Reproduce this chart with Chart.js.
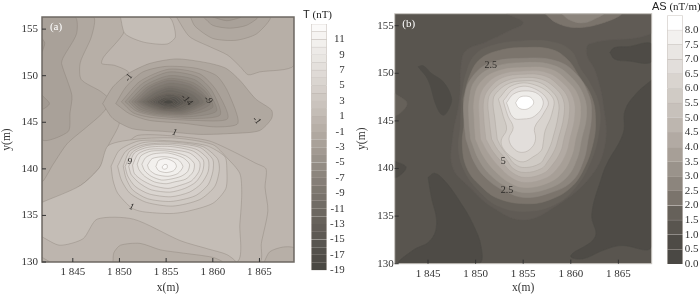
<!DOCTYPE html>
<html>
<head>
<meta charset="utf-8">
<script src="https://cdn.jsdelivr.net/npm/chart.js@4"></script>
<style>
html, body { margin: 0; padding: 0; background: #fff; }
canvas { position: absolute; top: 0; filter: blur(0.3px); }
.bartitle { position: absolute; font: 11px "Liberation Serif", serif; color: #222; white-space: nowrap; }
.bartitle b { font: 11px "Liberation Sans", sans-serif; }
</style>
</head>
<body>
<canvas id="mapT" width="300" height="294" style="left:0"></canvas>
<canvas id="barT" width="55" height="294" style="left:300px"></canvas>
<canvas id="mapAS" width="300" height="294" style="left:355px"></canvas>
<canvas id="barAS" width="45" height="294" style="left:655px"></canvas>
<div class="bartitle" style="left:303px;top:8px"><b>T</b> (nT)</div>
<div class="bartitle" style="left:652px;top:0"><b>AS</b> (nT/m)</div>
<script>
const xTicks = [1845, 1850, 1855, 1860, 1865];
const yTicks = [130, 135, 140, 145, 150, 155];
const tickLabelsT = [-19, -17, -15, -13, -11, -9, -7, -5, -3, -1, 1, 3, 5, 7, 9, 11];
const tickLabelsAS = [0, 0.5, 1, 1.5, 2, 2.5, 3, 3.5, 4, 4.5, 5, 5.5, 6, 6.5, 7, 7.5, 8];

// colour of each 1 nT band, from -19 upward
const bandColoursT = ['#4a4843', '#4f4c47', '#53504b', '#585550', '#5d5953', '#625d57', '#67625b', '#6c6760',
    '#716c65', '#78726b', '#7e7870', '#857e77', '#8c857d', '#938c84', '#9a938b', '#a29a92',
    '#a9a199', '#b0a8a0', '#b7afa7', '#bdb5ae', '#c4bdb6', '#cac3bd', '#cfc9c3', '#d5cfca',
    '#dad5d0', '#dfdad6', '#e4e0dc', '#e9e6e2', '#edeae7', '#f2f0ed', '#f6f4f2', '#fbfaf9'];
// colour of each 0.5 nT/m band, from 0 upward
const bandColoursAS = ['#4a4844', '#4e4b46', '#59554f', '#66615a', '#7b746c', '#8c857d', '#9a938b', '#a79f97',
    '#b2aaa3', '#bdb6af', '#c7c1bb', '#d0cbc5', '#d9d4cf', '#e2dedb', '#e9e6e3', '#f3f1ef', '#ffffff'];

// (a) contour rings, in metres, painted in this order
const levelsTback = [0, -1, -1, -2, -3, -4, -2, -3, -4, -4, 1, 0, 1, 0, -1, -1, -1];
const ringsTback = [
    [[1841.7,130],[1868.7,130],[1868.7,156.3],[1841.7,156.3]],
    [[1841.7,156.3],[1850.1,156.3],[1850.5,154.7],[1848.3,152],[1848.1,151.3],[1849.5,151.1],[1851,150.3],[1849.5,148.5],[1849,146],[1850,145],[1848.8,142.5],[1847.9,140.2],[1845.8,138.2],[1841.7,136.4]],
    [[1856.1,156.3],[1857.5,154.2],[1859.7,153.1],[1861.6,152.2],[1862.9,151],[1863.8,150.1],[1865,150.4],[1868.7,151.1],[1868.7,156.3]],
    [[1857.6,156.3],[1858.1,155.3],[1860,154],[1862.5,153.8],[1864.7,154.5],[1866.1,156.3]],
    [[1859,156.3],[1860,155.4],[1861.8,155.1],[1863.6,155.4],[1864.8,156.3]],
    [[1860,156.3],[1861.5,155.9],[1863,156.3]],
    [[1841.7,156.3],[1847.2,156.3],[1847,154.2],[1845.8,151.4],[1845.9,149.6],[1848,148.3],[1849,147.3],[1848.2,146],[1846.5,144.5],[1844.4,142.7],[1842.9,140.5],[1841.7,138.7]],
    [[1841.7,156.3],[1845.25,156.3],[1845.4,154.5],[1844,152],[1843.8,151.3],[1844.9,147.9],[1844.7,146],[1844.5,144],[1841.7,143.2]],
    [[1841.7,154],[1842,153.5],[1841.7,152.6]],
    [[1841.7,147.9],[1842.5,147],[1841.7,146.4]],
    [[1850.1,156.3],[1850.6,154.5],[1852.6,153.6],[1855.1,153.4],[1856,154.2],[1855.3,156.3]],
    [[1850.5,142.5],[1852,143.6],[1856.1,143.5],[1859.6,143],[1862.1,141.9],[1864.6,140.6],[1865.7,140],[1865.6,138],[1865.9,135.5],[1865.2,132],[1865,130],[1851,130],[1849.5,138]],
    [[1841.7,136.4],[1845.8,138.2],[1847.9,140.2],[1848.8,142.5],[1852,143.2],[1856,143.3],[1860,142.6],[1861.5,141.2],[1862.9,139.5],[1863.1,137.3],[1862.9,134.1],[1862.5,130],[1841.7,130]],
    [[1841.7,132.7],[1843.6,131.8],[1846.1,132.5],[1847.6,134.6],[1851.5,134.6],[1856.5,132.3],[1859.5,131.4],[1861.5,130.8],[1862.4,130],[1841.7,130]],
    [[1849.3,130],[1849.4,131],[1850.1,131.8],[1852.2,132],[1854.4,131.3],[1856.5,131],[1860,130.5],[1861,130]],
    [[1841.7,130.5],[1842.5,130],[1841.7,130]],
    [[1865.5,130],[1866.1,131.1],[1867.5,131.6],[1868.7,131.5],[1868.7,130]]
];

// (a) rings of the low, outermost first
const levelsTlow = [-2, -3, -4, -5, -6, -7, -8, -9, -10, -11, -12, -13, -14, -15, -16, -17, -18, -19];
const ringsTlow = [
    [[1848.2,147],[1849.3,148.8],[1850.9,150.2],[1853.2,151.3],[1856.1,151.8],[1859.3,151.4],[1861.4,150.8],[1862.9,149.5],[1864.6,147.5],[1866.3,146.3],[1866.3,145.4],[1865,144.1],[1862.1,143.8],[1858.6,143.7],[1855,144],[1851.4,144.3],[1849.3,145.4]],
    [[1849.6,147],[1850.7,148.8],[1852.5,150.4],[1855,151],[1858.2,150.8],[1860.4,150],[1861.6,148.3],[1862.7,144.9],[1860.4,144.5],[1856.8,144.9],[1853.2,145.2],[1851.1,145.9]],
    [[1850.2,147.2],[1852.2,149.4],[1855.3,150.7],[1858.6,150.2],[1860.4,148.4],[1861.6,145.4],[1858,145.2],[1853.5,145.5],[1851.5,146]],
    [[1850.6,147.2],[1852.5,149.2],[1855.3,150.4],[1858.3,149.9],[1859.9,148.4],[1860.8,145.8],[1857.8,145.4],[1853.8,145.7],[1851.8,146.2]],
    [[1851,147.2],[1852.8,149],[1855.3,150],[1858,149.6],[1859.5,148.3],[1860.4,146.2],[1857.6,145.6],[1854,145.8],[1852,146.3]],
    [[1851.3,147.2],[1853,148.8],[1855.3,149.7],[1857.8,149.3],[1859.3,148.2],[1860,146.6],[1857.4,145.8],[1854.2,145.9],[1852.2,146.4]],
    [[1851.6,147.2],[1853.2,148.7],[1855.3,149.5],[1857.6,149.1],[1859,148.1],[1859.7,146.9],[1857.2,145.9],[1854.3,146],[1852.5,146.5]],
    [[1851.9,147.2],[1853.4,148.5],[1855.3,149.2],[1857.4,148.9],[1858.8,148],[1859.5,147.2],[1857,146],[1854.4,146.1],[1852.8,146.6]],
    [[1852.1,147.2],[1853.6,148.3],[1855.3,148.9],[1857.2,148.6],[1858.5,147.9],[1859,147.1],[1856.8,146.1],[1854.5,146.2],[1853,146.7]],
    [[1852.4,147.2],[1853.8,148.2],[1855.3,148.7],[1857,148.4],[1858.1,147.8],[1858.6,147.1],[1856.6,146.2],[1854.6,146.3],[1853.2,146.7]],
    [[1852.7,147.2],[1854,148],[1855.3,148.5],[1856.8,148.2],[1857.7,147.7],[1858.1,147.1],[1856.4,146.3],[1854.7,146.3],[1853.4,146.8]],
    [[1852.9,147.2],[1854.1,147.9],[1855.3,148.2],[1856.6,148],[1857.3,147.6],[1857.7,147.1],[1856.2,146.4],[1854.8,146.4],[1853.6,146.8]],
    [[1853.2,147.2],[1854.2,147.8],[1855.3,148.1],[1856.3,147.9],[1856.9,147.5],[1857.2,147.1],[1856,146.5],[1854.9,146.4],[1853.9,146.8]],
    [[1853.5,147.2],[1854.4,147.7],[1855.3,148],[1856.2,147.8],[1856.9,147.1],[1855.9,146.5],[1854.9,146.5],[1854,146.9]],
    [[1853.8,147.2],[1854.5,147.6],[1855.3,147.8],[1856,147.7],[1856.6,147.1],[1855.8,146.6],[1855,146.6],[1854.2,146.9]],
    [[1854,147.2],[1854.7,147.6],[1855.3,147.65],[1855.9,147.5],[1856.3,147.1],[1855.6,146.7],[1855,146.7],[1854.4,146.9]],
    [[1854.3,147.2],[1854.9,147.5],[1855.4,147.5],[1856,147.1],[1855.5,146.85],[1854.9,146.85]],
    [[1854.6,147.15],[1855.1,147.4],[1855.6,147.35],[1855.8,147.1],[1855.3,146.95],[1854.9,147]]
];

// (a) rings of the high, outermost first
const levelsThigh = [2, 3, 4, 5, 6, 7, 8, 9, 10, 11, 12];
const ringsThigh = [
    [[1849.1,140.3],[1850,142],[1852.1,143],[1855.4,143],[1859.3,142.5],[1861.3,141.3],[1861.5,140.1],[1861.4,137.9],[1860,136.3],[1857.1,135.4],[1855.4,135.2],[1852.5,135.4],[1851.3,135.8],[1849.8,137.4],[1849.3,138.8]],
    [[1849.8,140.3],[1850.7,141.9],[1852.5,142.8],[1855.4,142.9],[1858.9,142.4],[1860.5,141.1],[1860.7,139.9],[1860.2,138.1],[1858.6,136.7],[1855.7,136],[1852.9,136.4],[1851.1,137.4],[1850.2,138.8]],
    [[1850.4,140.3],[1851.1,141.9],[1852.7,142.6],[1855.4,142.75],[1858.6,142.3],[1860,141],[1860,139.7],[1859.5,138.3],[1858.1,137.1],[1855.5,136.5],[1853,136.8],[1851.4,137.75],[1850.7,139]],
    [[1850.6,140.25],[1851.4,141.8],[1852.9,142.5],[1855.4,142.6],[1858.2,142.1],[1859.5,141],[1859.5,139.7],[1858.75,138.4],[1857.5,137.5],[1855.5,137],[1853.2,137.3],[1851.7,138.1],[1850.9,139.2]],
    [[1851,140.25],[1851.6,141.7],[1853,142.3],[1855.4,142.4],[1857.9,141.9],[1859,140.9],[1858.9,139.7],[1858.2,138.6],[1857,137.9],[1855.4,137.5],[1853.4,137.75],[1852.1,138.5],[1851.25,139.4]],
    [[1851.4,140.4],[1852,141.6],[1853.2,142.1],[1855.2,142.1],[1857.5,141.7],[1858.6,140.7],[1858.5,139.7],[1857.7,138.7],[1856.4,138.2],[1855.2,137.9],[1853.6,138.2],[1852.4,138.8],[1851.6,139.5]],
    [[1851.9,140.5],[1852.3,141.4],[1853.4,141.9],[1855.2,141.9],[1857.1,141.4],[1858,140.6],[1857.9,139.7],[1857.1,138.9],[1855.9,138.6],[1855,138.4],[1853.75,138.6],[1852.7,139.2],[1852.1,139.9]],
    [[1852.4,140.5],[1852.8,141.2],[1853.6,141.6],[1855.2,141.7],[1856.8,141.2],[1857.5,140.5],[1857.3,139.7],[1856.6,139.2],[1855.5,138.9],[1854.5,138.8],[1853.4,139.2],[1852.7,139.8]],
    [[1853,140.4],[1853.5,141.1],[1854.8,141.3],[1856.25,141],[1856.8,140.25],[1856.25,139.5],[1855.2,139.2],[1853.9,139.4],[1853.2,139.9]],
    [[1853.9,140.25],[1854.2,140.9],[1855,141.1],[1855.9,140.7],[1856.1,140.25],[1855.8,139.8],[1855,139.6],[1854.2,139.8]],
    [[1854.6,140.25],[1854.8,140.46],[1855.1,140.43],[1855.1,140.07],[1854.8,139.96],[1854.6,140.07]]
];

const labelsT = ['-1', '-14', '-9', '-1', '1', '9', '1'];
const labelsTx = [1851, 1857.2, 1859.5, 1864.7, 1855.9, 1851.1, 1851.3];
const labelsTy = [149.8, 147.4, 147.4, 145.2, 143.9, 140.8, 135.9];
const labelsTrot = [-60, 45, 45, 45, 15, 0, 15];

// (b) contour rings, painted in this order
const levelsASback = [1, 0.5, 0.5, 1.5, 0.5, 0.5, 0.5, 1.25, 2, 2.5, 1.5, 2];
const ringsASback = [
    [[1841.5,130],[1868.5,130],[1868.5,156.26],[1841.5,156.26]],
    [[1843.95,150.7],[1844.5,150.8],[1845.35,150],[1846.6,149.1],[1847.45,147.5],[1847.3,146.5],[1846.6,145.6],[1845.9,146.5],[1845,149.3]],
    [[1841.5,140.8],[1842.7,140.1],[1841.5,139.05]],
    [[1841.5,147.9],[1842.8,146.8],[1841.5,145.6]],
    [[1845,139.05],[1845.7,139.5],[1846.75,138.7],[1848.3,136.6],[1849.7,134.2],[1850.6,131.7],[1850.3,130],[1842,130],[1843.4,131.4],[1845.2,132.4],[1845.9,134.2],[1845.35,137]],
    [[1864.1,152.2],[1864.6,152.7],[1866,152.8],[1868.5,153.1],[1868.5,151.2],[1866,151.3],[1864.6,151.5]],
    [[1868.5,149.3],[1866.9,147.9],[1865.7,146.1],[1865.5,143.7],[1863.8,140.5],[1863.25,139.1],[1862.2,135.2],[1862.55,132.8],[1860,130.85],[1861.2,130.5],[1863.4,131.4],[1865.2,131.9],[1868.5,131.9]],
    [[1853.25,156.26],[1855,155.3],[1853.4,154.4],[1851.1,153.3],[1849,152.4],[1848.5,151],[1848.3,147.2],[1847.6,143.3],[1847.6,140.1],[1849.4,138],[1851.8,135.9],[1855,134.6],[1858.2,135.9],[1862,139.05],[1863.6,142.55],[1863.4,146.8],[1862.55,150.3],[1861.7,151.9],[1862,153.1],[1868.5,154.2],[1868.5,156.26]],
    [[1857.3,156.26],[1858.5,155.3],[1860.6,154.8],[1863.4,155.3],[1865.2,156.26]],
    [[1859.05,156.26],[1859.9,155.6],[1861.3,155.3],[1862.7,155.8],[1863.4,156.26]],
    [[1848.5,147.3],[1849,150],[1850,152],[1852,153],[1855,153.4],[1858,153.3],[1860,152.4],[1861,150.5],[1862,149],[1863,146.5],[1862.9,143.5],[1862,140.5],[1860.5,138],[1858.5,136.3],[1855.5,135.5],[1852.5,136],[1850.3,137.7],[1848.8,139.8],[1848.2,142],[1848.4,144.5]],
    [[1848.7,147.3],[1849.4,149.8],[1850.5,151.5],[1852.5,152.4],[1855,152.7],[1858,152.5],[1859.7,151.4],[1860.8,149.8],[1862.2,147.5],[1862.6,145],[1862.3,142.5],[1861.3,139.8],[1860,138],[1858,136.8],[1855.7,136.3],[1852.5,136.8],[1850.5,138.2],[1849.1,140],[1848.6,142.5],[1848.8,145]]
];

// (b) rings of the body, outermost first
const levelsASbody = [2.5, 3, 3.5, 4, 4.5, 5, 5.5, 6, 6.5, 7.25, 8];
const ringsASbody = [
    [[1848.99,143.08],[1848.78,145.17],[1848.81,147.27],[1849.48,149.37],[1851.43,151.05],[1855,151.57],[1858.5,151.29],[1860.59,149.9],[1861.92,147.62],[1862.17,145.52],[1861.82,143.08],[1861.29,140.7],[1860.07,138.6],[1857.62,137.38],[1855.17,136.96],[1853.25,137.55],[1851.33,138.78],[1849.93,140.52]],
    [[1849.48,143.08],[1849.3,145.17],[1849.34,147.27],[1849.93,149.2],[1851.78,150.6],[1855,151.12],[1858.15,150.84],[1860.07,149.55],[1861.36,147.62],[1861.64,145.52],[1861.12,143.08],[1860.66,141.05],[1859.55,139.06],[1857.62,137.9],[1855.17,137.48],[1853.43,138.01],[1851.68,139.2],[1850.38,140.87]],
    [[1850,143.08],[1849.86,145.17],[1849.86,147.27],[1850.45,148.95],[1852.13,150.17],[1855,150.6],[1857.87,150.42],[1859.62,149.2],[1860.77,147.62],[1861.01,145.52],[1860.49,143.08],[1860.07,141.29],[1859.02,139.48],[1857.45,138.43],[1855.17,138.01],[1853.6,138.5],[1852.13,139.65],[1850.87,141.22]],
    [[1850.52,143.08],[1850.38,145.17],[1850.38,147.27],[1850.98,148.67],[1852.48,149.83],[1855,150.24],[1857.52,150.07],[1859.2,148.95],[1860.24,147.45],[1860.42,145.52],[1859.9,143.08],[1859.48,141.5],[1858.5,139.9],[1857.27,138.95],[1855.17,138.53],[1853.78,139.02],[1852.55,140.1],[1851.4,141.5]],
    [[1851.08,143.08],[1850.87,145.17],[1850.87,147.27],[1851.5,148.5],[1852.83,149.55],[1855,149.9],[1857.27,149.72],[1858.78,148.67],[1859.72,147.34],[1859.83,145.52],[1859.27,143.08],[1858.92,141.75],[1858.04,140.35],[1857.1,139.48],[1855.17,139.06],[1853.88,139.55],[1852.9,140.52],[1851.85,141.75]],
    [[1851.68,143.08],[1851.43,145.17],[1851.33,147.27],[1851.92,148.32],[1853.18,149.2],[1855,149.55],[1856.92,149.37],[1858.32,148.5],[1859.2,147.27],[1859.27,145.52],[1858.67,143.08],[1858.32,141.99],[1857.62,140.8],[1856.92,140],[1855.17,139.58],[1853.95,140],[1853.25,140.94],[1852.31,141.99]],
    [[1852.27,143.08],[1852.03,145.17],[1851.85,147.27],[1852.38,148.15],[1853.53,148.95],[1855,149.2],[1856.57,149.09],[1857.87,148.25],[1858.67,147.1],[1858.67,145.52],[1858.08,143.08],[1857.8,142.27],[1857.27,141.22],[1856.75,140.52],[1855.17,140.1],[1854.13,140.45],[1853.43,141.29],[1852.73,142.2]],
    [[1852.4,147.3],[1853.8,148.7],[1856,148.85],[1858.1,147.45],[1858,145.7],[1857.3,143.95],[1857.1,142.7],[1856.9,141.9],[1856,141.2],[1855,140.7],[1854,141.05],[1852.9,142.1],[1852.7,143],[1853.25,144.1],[1852.9,145.5]],
    [[1852.9,147.1],[1854.1,148.4],[1855.9,148.5],[1857.6,147.1],[1857.1,145.7],[1856.2,144.3],[1856.3,143.1],[1855.9,142.2],[1855,141.7],[1854.1,142],[1853.5,143.1],[1853.95,144.3],[1853.4,145.5]],
    [[1853.25,146.9],[1853.95,147.8],[1855.2,148.15],[1856.6,147.8],[1857.1,146.75],[1856.2,145.5],[1855,145.2],[1853.95,145.35]],
    [[1854.2,146.9],[1854.6,147.45],[1855.2,147.6],[1855.8,147.45],[1856.1,146.9],[1855.7,146.4],[1855.1,146.2],[1854.5,146.4]]
];

const labelsAS = ['2.5', '5', '2.5'];
const labelsASx = [1851.6, 1852.9, 1853.3];
const labelsASy = [150.8, 140.7, 137.65];

const serif = '"Liberation Serif", serif';

function ringDatasets(rings, levels, colourOf, lineColour, tension) {
    return rings.map((ring, i) => ({
        data: ring.concat([ring[0]]).map(p => ({ x: p[0], y: p[1] })),
        backgroundColor: colourOf(levels[i]),
        borderColor: lineColour(levels[i]),
        borderWidth: 0.6,
        fill: 'shape',
        showLine: true,
        tension: tension,
        pointRadius: 0
    }));
}

// inward ticks and frame around the plot
const framePlugin = {
    id: 'frame',
    afterDatasetsDraw(chart, args, opts) {
        const { ctx, chartArea: a, scales } = chart;
        ctx.save();
        ctx.strokeStyle = opts.colour;
        ctx.lineWidth = opts.width;
        ctx.strokeRect(a.left, a.top, a.width, a.height);
        ctx.strokeStyle = '#333';
        ctx.lineWidth = 1;
        ctx.beginPath();
        xTicks.forEach(v => {
            const x = scales.x.getPixelForValue(v);
            ctx.moveTo(x, a.bottom);
            ctx.lineTo(x, a.bottom - 4);
        });
        yTicks.forEach(v => {
            const y = scales.y.getPixelForValue(v);
            ctx.moveTo(a.left, y);
            ctx.lineTo(a.left + 4, y);
        });
        ctx.stroke();
        ctx.restore();
    }
};

const notePlugin = {
    id: 'note',
    afterDraw(chart, args, opts) {
        const { ctx, scales } = chart;
        ctx.save();
        ctx.textAlign = 'center';
        ctx.textBaseline = 'middle';
        ctx.fillStyle = '#2c2a27';
        ctx.font = opts.labelFont;
        opts.texts.forEach((t, i) => {
            ctx.save();
            ctx.translate(scales.x.getPixelForValue(opts.xs[i]), scales.y.getPixelForValue(opts.ys[i]));
            ctx.rotate((opts.rots[i] || 0) * Math.PI / 180);
            ctx.fillText(t, 0, 0);
            ctx.restore();
        });
        ctx.font = '11px ' + serif;
        ctx.fillStyle = '#fff';
        ctx.fillText(opts.tag, chart.chartArea.left + 14, chart.chartArea.top + 10);
        ctx.restore();
    }
};

function makeMap(id, datasets, s) {
    new Chart(document.getElementById(id), {
        type: 'scatter',
        data: { datasets: datasets.reverse() },
        options: {
            responsive: false,
            animation: false,
            layout: { padding: { top: s.top, right: s.right, bottom: 0, left: 0 } },
            plugins: {
                legend: { display: false },
                tooltip: { enabled: false },
                frame: { colour: s.frame, width: s.frameWidth },
                note: { texts: s.texts, xs: s.xs, ys: s.ys, rots: s.rots, tag: s.tag, labelFont: s.labelFont }
            },
            scales: {
                x: {
                    type: 'linear', min: s.xMin, max: s.xMax,
                    grid: { display: false, drawTicks: false, tickLength: 0 }, border: { display: false },
                    afterBuildTicks: scale => { scale.ticks = xTicks.map(v => ({ value: v })); },
                    afterFit: scale => { scale.height = s.bottom; },
                    ticks: {
                        autoSkip: false, maxRotation: 0, padding: 4, color: '#333',
                        font: { family: serif, size: 11 },
                        callback: v => '1 ' + String(v).slice(1)
                    },
                    title: { display: true, text: 'x(m)', color: '#333', font: { family: serif, size: 11.5 }, padding: { top: 0, bottom: -1 } }
                },
                y: {
                    type: 'linear', min: 130, max: s.yMax,
                    grid: { display: false, drawTicks: false, tickLength: 0 }, border: { display: false },
                    afterBuildTicks: scale => { scale.ticks = yTicks.map(v => ({ value: v })); },
                    afterFit: scale => { scale.width = s.left; },
                    ticks: { autoSkip: false, padding: s.yPad, color: '#333', font: { family: serif, size: 11 } },
                    title: { display: true, text: 'y(m)', color: '#333', font: { family: serif, size: 11.5 }, padding: { top: 0, bottom: 0 } }
                }
            }
        },
        plugins: [framePlugin, notePlugin]
    });
}

function makeBar(id, colours, step, start, ticksShown, s) {
    new Chart(document.getElementById(id), {
        type: 'bar',
        data: {
            labels: [''],
            datasets: colours.map((c, i) => ({
                data: [[start + i * step, start + (i + 1) * step]],
                backgroundColor: c,
                borderColor: s.line,
                borderWidth: s.lineWidth,
                barPercentage: 1,
                categoryPercentage: 1,
                grouped: false
            }))
        },
        options: {
            responsive: false,
            animation: false,
            layout: { padding: { top: s.top, bottom: s.bottom, left: s.left, right: s.right } },
            plugins: { legend: { display: false }, tooltip: { enabled: false } },
            scales: {
                x: { display: false },
                y: {
                    position: 'right',
                    min: start, max: start + colours.length * step,
                    grid: { display: false, drawTicks: false, tickLength: 0 }, border: { display: false },
                    afterBuildTicks: scale => { scale.ticks = ticksShown.map(v => ({ value: v })); },
                    afterFit: scale => { scale.width = s.axis; },
                    ticks: {
                        autoSkip: false, padding: s.pad, color: '#333', crossAlign: s.align,
                        font: { family: serif, size: 11 },
                        callback: v => s.digits ? v.toFixed(s.digits) : String(v)
                    }
                }
            }
        }
    });
}

const lineT = () => 'rgba(125,117,109,0.55)';
makeMap('mapT',
    ringDatasets(ringsTback, levelsTback, l => bandColoursT[l + 19], lineT, 0.25)
        .concat(ringDatasets(ringsTlow, levelsTlow, l => bandColoursT[l + 19], lineT, 0.25))
        .concat(ringDatasets(ringsThigh, levelsThigh, l => bandColoursT[l + 19], lineT, 0.25)),
    { top: 17, right: 6, bottom: 32, left: 42, yPad: 4, xMin: 1841.7, xMax: 1868.7, yMax: 156.3,
      frame: '#6f6a64', frameWidth: 1.5, texts: labelsT, xs: labelsTx, ys: labelsTy, rots: labelsTrot,
      tag: '(a)', labelFont: 'italic 9px ' + serif });

// band colour for a level, mixed between two bands when the level falls inside one
const colourAS = l => {
    const i = l * 2, lo = Math.floor(i), t = i - lo;
    if (t === 0) return bandColoursAS[lo];
    const a = bandColoursAS[lo], b = bandColoursAS[lo + 1];
    const part = k => Math.round(parseInt(a.substr(k, 2), 16) * (1 - t) + parseInt(b.substr(k, 2), 16) * t);
    return `rgb(${part(1)}, ${part(3)}, ${part(5)})`;
};
const lineAS = l => l >= 4 ? 'rgba(165,158,151,0.7)' : colourAS(l);
makeMap('mapAS',
    ringDatasets(ringsASback, levelsASback, colourAS, lineAS, 0.4)
        .concat(ringDatasets(ringsASbody, levelsASbody, colourAS, lineAS, 0.4)),
    { top: 13.7, right: 3.3, bottom: 30.3, left: 39.7, yPad: 1, xMin: 1841.5, xMax: 1868.5, yMax: 156.26,
      frame: '#c9c5c0', frameWidth: 1, texts: labelsAS, xs: labelsASx, ys: labelsASy, rots: [0, 0, 0],
      tag: '(b)', labelFont: '10px ' + serif });

makeBar('barT', bandColoursT, 1, -19, tickLabelsT,
    { top: 24, bottom: 23.7, left: 11.3, right: 10.3, axis: 18, pad: 2, align: 'far', line: '#b8b1aa', lineWidth: 0.5, digits: 0 });
makeBar('barAS', bandColoursAS, 0.5, 0, tickLabelsAS,
    { top: 15.4, bottom: 30, left: 12.3, right: 0, axis: 17.3, pad: 2, align: 'near', line: '#b8b1aa', lineWidth: 0.5, digits: 1 });
</script>
</body>
</html>
